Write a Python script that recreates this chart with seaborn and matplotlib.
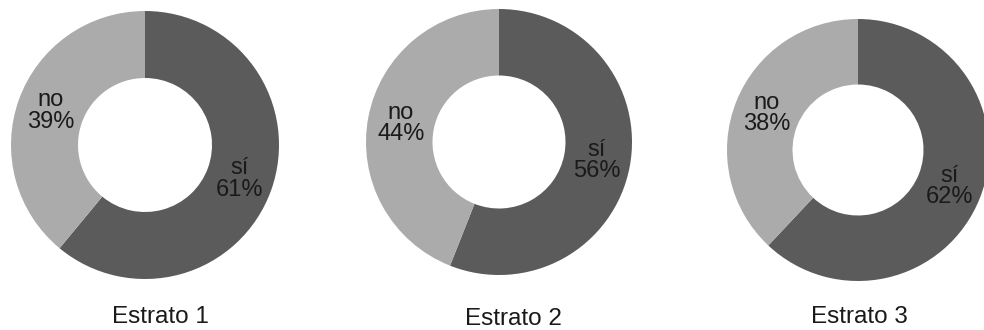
import matplotlib
matplotlib.use("Agg")
import matplotlib.pyplot as plt
import seaborn as sns

# Survey answers per stratum (percent)
strata = ["Estrato 1", "Estrato 2", "Estrato 3"]
answers = ["sí", "no"]
si_pct = [61, 56, 62]
no_pct = [39, 44, 38]

sns.set_theme(style="white")
plt.rcParams["font.family"] = ["Liberation Sans", "DejaVu Sans"]

colors = sns.color_palette(["#5b5b5b", "#ababab"])

W, H = 984, 330
fig = plt.figure(figsize=(W / 100, H / 100), dpi=100)
fig.patch.set_facecolor("white")

# donut centre (px from left/top), outer radius (px), title anchor
layout = [
    dict(cx=145, cy=145, r=134, tx=160, ty=323),
    dict(cx=499, cy=142, r=133, tx=513, ty=325),
    dict(cx=858, cy=150, r=131, tx=859, ty=323),
]

for name, si, no, lay in zip(strata, si_pct, no_pct, layout):
    cx, cy, r = lay["cx"], lay["cy"], lay["r"]
    ax = fig.add_axes([(cx - r) / W, (H - cy - r) / H, 2 * r / W, 2 * r / H])
    vals = [si, no]
    names = iter(answers)
    ax.pie(
        vals,
        colors=colors,
        startangle=90,
        counterclock=False,
        radius=1.0,
        wedgeprops=dict(width=0.5, linewidth=0),
        autopct=lambda p, n=names: f"{next(n)}\n{p:.0f}%",
        pctdistance=0.75,
        textprops=dict(fontsize=17, color="#1a1a1a", linespacing=0.95),
    )
    ax.set_xlim(-1, 1)
    ax.set_ylim(-1, 1)
    ax.set_aspect("equal")
    ax.axis("off")
    fig.text(lay["tx"] / W, 1 - lay["ty"] / H, name, ha="center", va="baseline",
             fontsize=17.5, color="#1a1a1a")

fig.savefig("out.png", dpi=100, facecolor="white")
